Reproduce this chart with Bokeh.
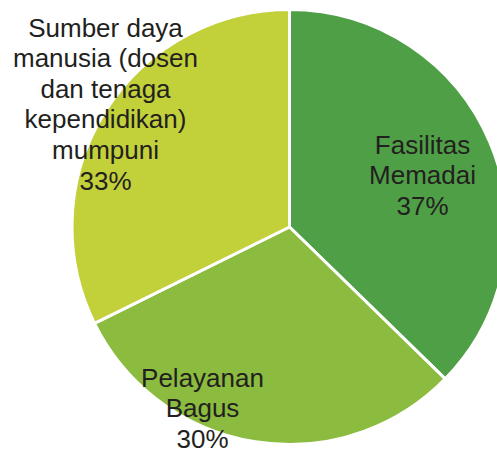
import math
from bokeh.plotting import figure
from bokeh.models import Range1d, ColumnDataSource
from bokeh.core.properties import value
from bokeh.embed import file_html
from bokeh.resources import INLINE

# Data
categories = ["Fasilitas\nMemadai", "Pelayanan\nBagus",
              "Sumber daya\nmanusia (dosen\ndan tenaga\nkependidikan)\nmumpuni"]
values = [37.3, 30.4, 32.3]
pct_labels = ["37%", "30%", "33%"]
colors = ["#4F9F46", "#8BBB3F", "#C2D03A"]

# Layout (page pixel coordinates; y measured downward on page)
W, H = 497, 451
cx, cy, r = 289, 226.5, 217.5
label_anchor_x = [422, 202, 105]
label_anchor_y = [144, 377, 27]   # first line position (compensated baseline)
line_step = 30.6
font_px = 26

p = figure(width=W, height=H, output_backend="svg", toolbar_location=None,
           x_range=Range1d(0, W), y_range=Range1d(0, H), min_border=0)
p.axis.visible = False
p.grid.visible = False
p.outline_line_color = None
p.background_fill_color = "white"
p.border_fill_color = "white"

def py(y):
    return H - y

total = sum(values)
starts, ends = [], []
acc = 0.0
for v in values:
    a0 = math.pi / 2 - 2 * math.pi * acc / total
    acc += v
    a1 = math.pi / 2 - 2 * math.pi * acc / total
    starts.append(a0)
    ends.append(a1)

src = ColumnDataSource(dict(x=[cx] * 3, y=[py(cy)] * 3, start=starts, end=ends, color=colors))
p.wedge(x="x", y="y", radius=r, start_angle="start", end_angle="end", direction="clock",
        fill_color="color", line_color="white", line_width=3, source=src)

tx, ty, tt = [], [], []
for cat, pl, ax, ay in zip(categories, pct_labels, label_anchor_x, label_anchor_y):
    lines = cat.split("\n") + [pl]
    for i, ln in enumerate(lines):
        tx.append(ax)
        ty.append(py(ay + i * line_step))
        tt.append(ln)

p.text(x=tx, y=ty, text=tt, text_font=value("Liberation Sans"), text_font_size=f"{font_px}px",
       text_color="#231F20", text_align="center", text_baseline="alphabetic")

open("out.html", "w").write(file_html(p, INLINE))
